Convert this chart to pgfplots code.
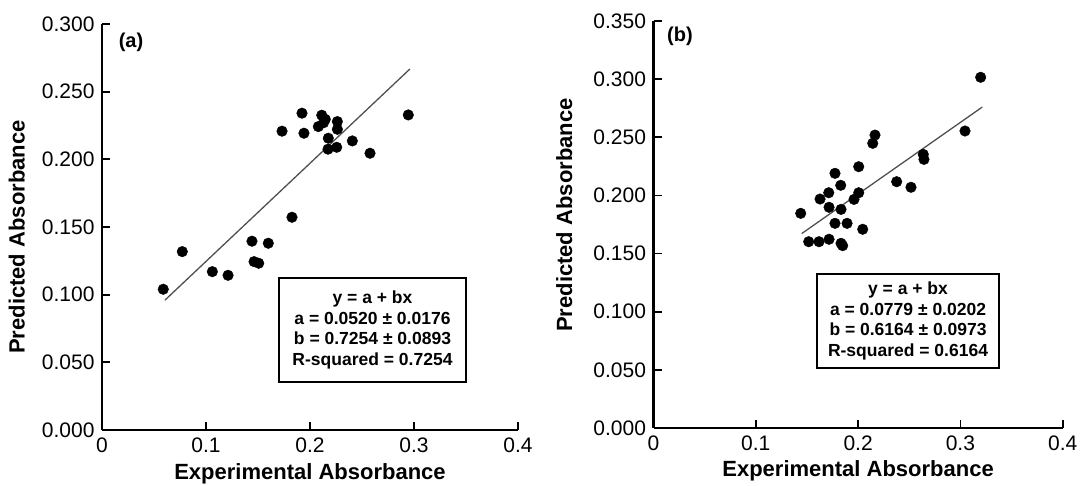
\documentclass[border=0pt]{standalone}
\usepackage{pgfplots}
\pgfplotsset{compat=1.18}
\usepackage{fontspec}
\setmainfont{Liberation Sans}

\pgfplotsset{
  absplot/.style={
    scale only axis,
    axis lines=left,
    axis line style={line width=2.6pt,-},
    tick style={black, line width=1.8pt},
    major tick length=8pt,
    tick align=inside,
    clip=false,
    xmin=0, xmax=0.4,
    xtick={0,0.1,0.2,0.3,0.4}, xticklabels={0,0.1,0.2,0.3,0.4},
    tick label style={font=\fontsize{21}{24}\selectfont},
    x tick label style={yshift=-4pt},
    y tick label style={xshift=-4pt, /pgf/number format/.cd, fixed, fixed zerofill, precision=3, assume math mode=true, /tikz/.cd},
    xlabel={Experimental Absorbance}, ylabel={Predicted Absorbance},
    label style={font=\fontsize{22}{26}\selectfont\bfseries},
  },
  pts/.style={only marks, mark=*, mark size=5.3pt, black},
  fitline/.style={draw={rgb,255:red,80;green,80;blue,80}, line width=1.3pt, no marks},
}
\tikzset{
  eqbox/.style={draw, line width=1.5pt, align=center, inner sep=0pt, font=\fontsize{17.5}{20.5}\selectfont\bfseries},
}

\begin{document}
\begin{tikzpicture}
\useasboundingbox (0,0) rectangle (1081pt,486pt);

% (a)
\begin{axis}[absplot, at={(102pt,56pt)}, anchor=south west,
  width=416pt, height=406pt, ymin=0, ymax=0.3, ytick={0,0.05,...,0.3},
  xlabel style={at={(axis description cs:0.5,-0.121)}, anchor=base},
  ylabel style={at={(axis description cs:-0.205,0.475)}, anchor=center}]
\addplot[pts] coordinates {
(0.0589,0.1040) (0.0772,0.1318) (0.1061,0.1170) (0.1212,0.1143)
(0.1442,0.1395) (0.1599,0.1380) (0.1462,0.1244) (0.1507,0.1232)
(0.1827,0.1572) (0.1731,0.2208) (0.1923,0.2341) (0.1942,0.2193)
(0.2113,0.2326) (0.2147,0.2296) (0.2080,0.2242) (0.2263,0.2279)
(0.2263,0.2222) (0.2176,0.2156) (0.2173,0.2075) (0.2257,0.2089)
(0.2407,0.2136) (0.2577,0.2045) (0.2945,0.2328) (0.2130,0.2270)
};
\addplot[fitline] coordinates {(0.0606,0.0960) (0.296,0.2667)};
\node[eqbox, minimum width=187pt, minimum height=104pt] at (axis cs:0.2601,0.0739)
  {y = a + bx\\a = 0.0520 ± 0.0176\\b = 0.7254 ± 0.0893\\R-squared = 0.7254};
\node[font=\fontsize{20}{22}\selectfont\bfseries] at (axis cs:0.0279,0.2868) {(a)};
\end{axis}

% (b)
\begin{axis}[absplot, at={(653.5pt,58pt)}, anchor=south west,
  width=409.2pt, height=407pt, ymin=0, ymax=0.35, ytick={0,0.05,...,0.35},
  xlabel style={at={(axis description cs:0.5,-0.118)}, anchor=base},
  ylabel style={at={(axis description cs:-0.218,0.523)}, anchor=center}]
\addplot[pts] coordinates {
(0.3198,0.3016) (0.3045,0.2554) (0.2637,0.2353) (0.2644,0.2310)
(0.2165,0.2519) (0.2143,0.2448) (0.2006,0.2247) (0.2377,0.2118)
(0.2517,0.2070) (0.1774,0.2190) (0.1830,0.2087) (0.1713,0.2023)
(0.1628,0.1969) (0.2006,0.2023) (0.1960,0.1966) (0.1716,0.1898)
(0.1833,0.1880) (0.1439,0.1846) (0.1774,0.1760) (0.1892,0.1760)
(0.2045,0.1709) (0.1517,0.1602) (0.1618,0.1602) (0.1716,0.1623)
(0.1833,0.1588) (0.1849,0.1568)
};
\addplot[fitline] coordinates {(0.1449,0.1672) (0.3214,0.2760)};
\node[eqbox, minimum width=182pt, minimum height=94pt] at (axis cs:0.2488,0.0920)
  {y = a + bx\\a = 0.0779 ± 0.0202\\b = 0.6164 ± 0.0973\\R-squared = 0.6164};
\node[font=\fontsize{20}{22}\selectfont\bfseries] at (axis cs:0.0259,0.3371) {(b)};
\end{axis}
\end{tikzpicture}
\end{document}
